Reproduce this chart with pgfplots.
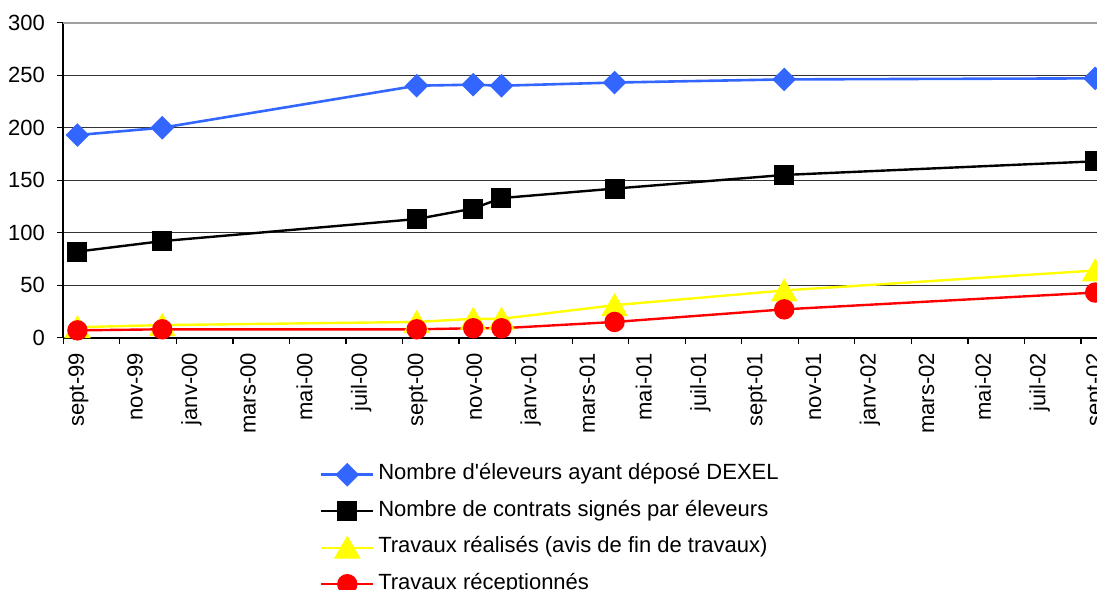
\documentclass[border=0pt]{standalone}
\usepackage{fontspec}
\setmainfont{Liberation Sans}
\usepackage{pgfplots}
\pgfplotsset{compat=1.18}
\definecolor{cblue}{HTML}{3366FF}
\definecolor{cyellow}{HTML}{FFFF00}
\definecolor{cred}{HTML}{FF0000}
\begin{document}
\fontsize{11}{13}\selectfont
\begin{tikzpicture}
\begin{axis}[
  scale only axis, width=523pt, height=157.5pt,
  xmin=0, xmax=37, ymin=0, ymax=300,
  axis x line=bottom, axis y line=left,
  axis line style={-, black, line width=0.8pt},
  /pgf/number format/assume math mode=true,
  tick label style={font=\fontsize{11}{13}\selectfont},
  xtick={0,2,...,36}, xticklabel=\empty,
  extra x ticks={0.5,2.5,...,36.5},
  extra x tick labels={sept-99,nov-99,janv-00,mars-00,mai-00,juil-00,sept-00,nov-00,janv-01,mars-01,mai-01,juil-01,sept-01,nov-01,janv-02,mars-02,mai-02,juil-02,sept-02},
  extra x tick style={major tick length=0pt, xticklabel style={yshift=-7.5pt, xshift=0.5pt, rotate=90, anchor=east, inner sep=0pt}},
  ytick={0,50,...,250}, extra y ticks={300},
  extra y tick style={grid style={gray!75, line width=1pt}},
  yticklabel style={anchor=east, inner sep=0pt, xshift=-6pt},
  ymajorgrids, grid style={black!80, line width=0.5pt},
  tick align=outside, major tick length=3pt, tick style={black, line width=0.6pt},
  legend cell align=left,
  legend style={draw=none, fill=none, inner sep=0pt, outer sep=0pt,
    at={(axis description cs:0.2454,-0.40)}, anchor=north west,
    font=\fontsize{11}{13}\selectfont, row sep=7.25pt,
    nodes={inner sep=0pt, text height=8pt, text depth=3pt}},
  legend image code/.code={\draw[mark repeat=2,mark phase=2,#1] plot coordinates {(0pt,0pt) (13pt,0pt) (26pt,0pt)};},
]
\addplot[cblue, line width=1.3pt, mark=square*, mark size=3.54pt, mark options={rotate=45}]
  coordinates {(0.5,193) (3.5,200) (12.5,240) (14.5,241) (15.5,240) (19.5,243) (25.5,246) (36.5,247)};
\addlegendentry{\,Nombre d\textquotesingle éleveurs ayant déposé DEXEL}
\addplot[black, line width=1.2pt, mark=square*, mark size=4.4pt]
  coordinates {(0.5,82) (3.5,92) (12.5,113) (14.5,123) (15.5,133) (19.5,142) (25.5,155) (36.5,168)};
\addlegendentry{\,Nombre de contrats signés par éleveurs}
\addplot[cyellow, line width=1.2pt, mark=triangle*, mark size=6.5pt, mark options={yshift=-1.6pt}]
  coordinates {(0.5,10) (3.5,12) (12.5,15) (14.5,18) (15.5,18) (19.5,31) (25.5,45) (36.5,64)};
\addlegendentry{\,Travaux réalisés (avis de fin de travaux)}
\addplot[cred, line width=1.2pt, mark=*, mark size=4.5pt]
  coordinates {(0.5,7) (3.5,8) (12.5,8) (14.5,9) (15.5,9) (19.5,15) (25.5,27) (36.5,43)};
\addlegendentry{\,Travaux réceptionnés}
\end{axis}
\pgfresetboundingbox
\path ([xshift=-31.65pt,yshift=-125.65pt]current axis.south west) rectangle ([xshift=516.85pt,yshift=168.85pt]current axis.south west);
\end{tikzpicture}
\end{document}
